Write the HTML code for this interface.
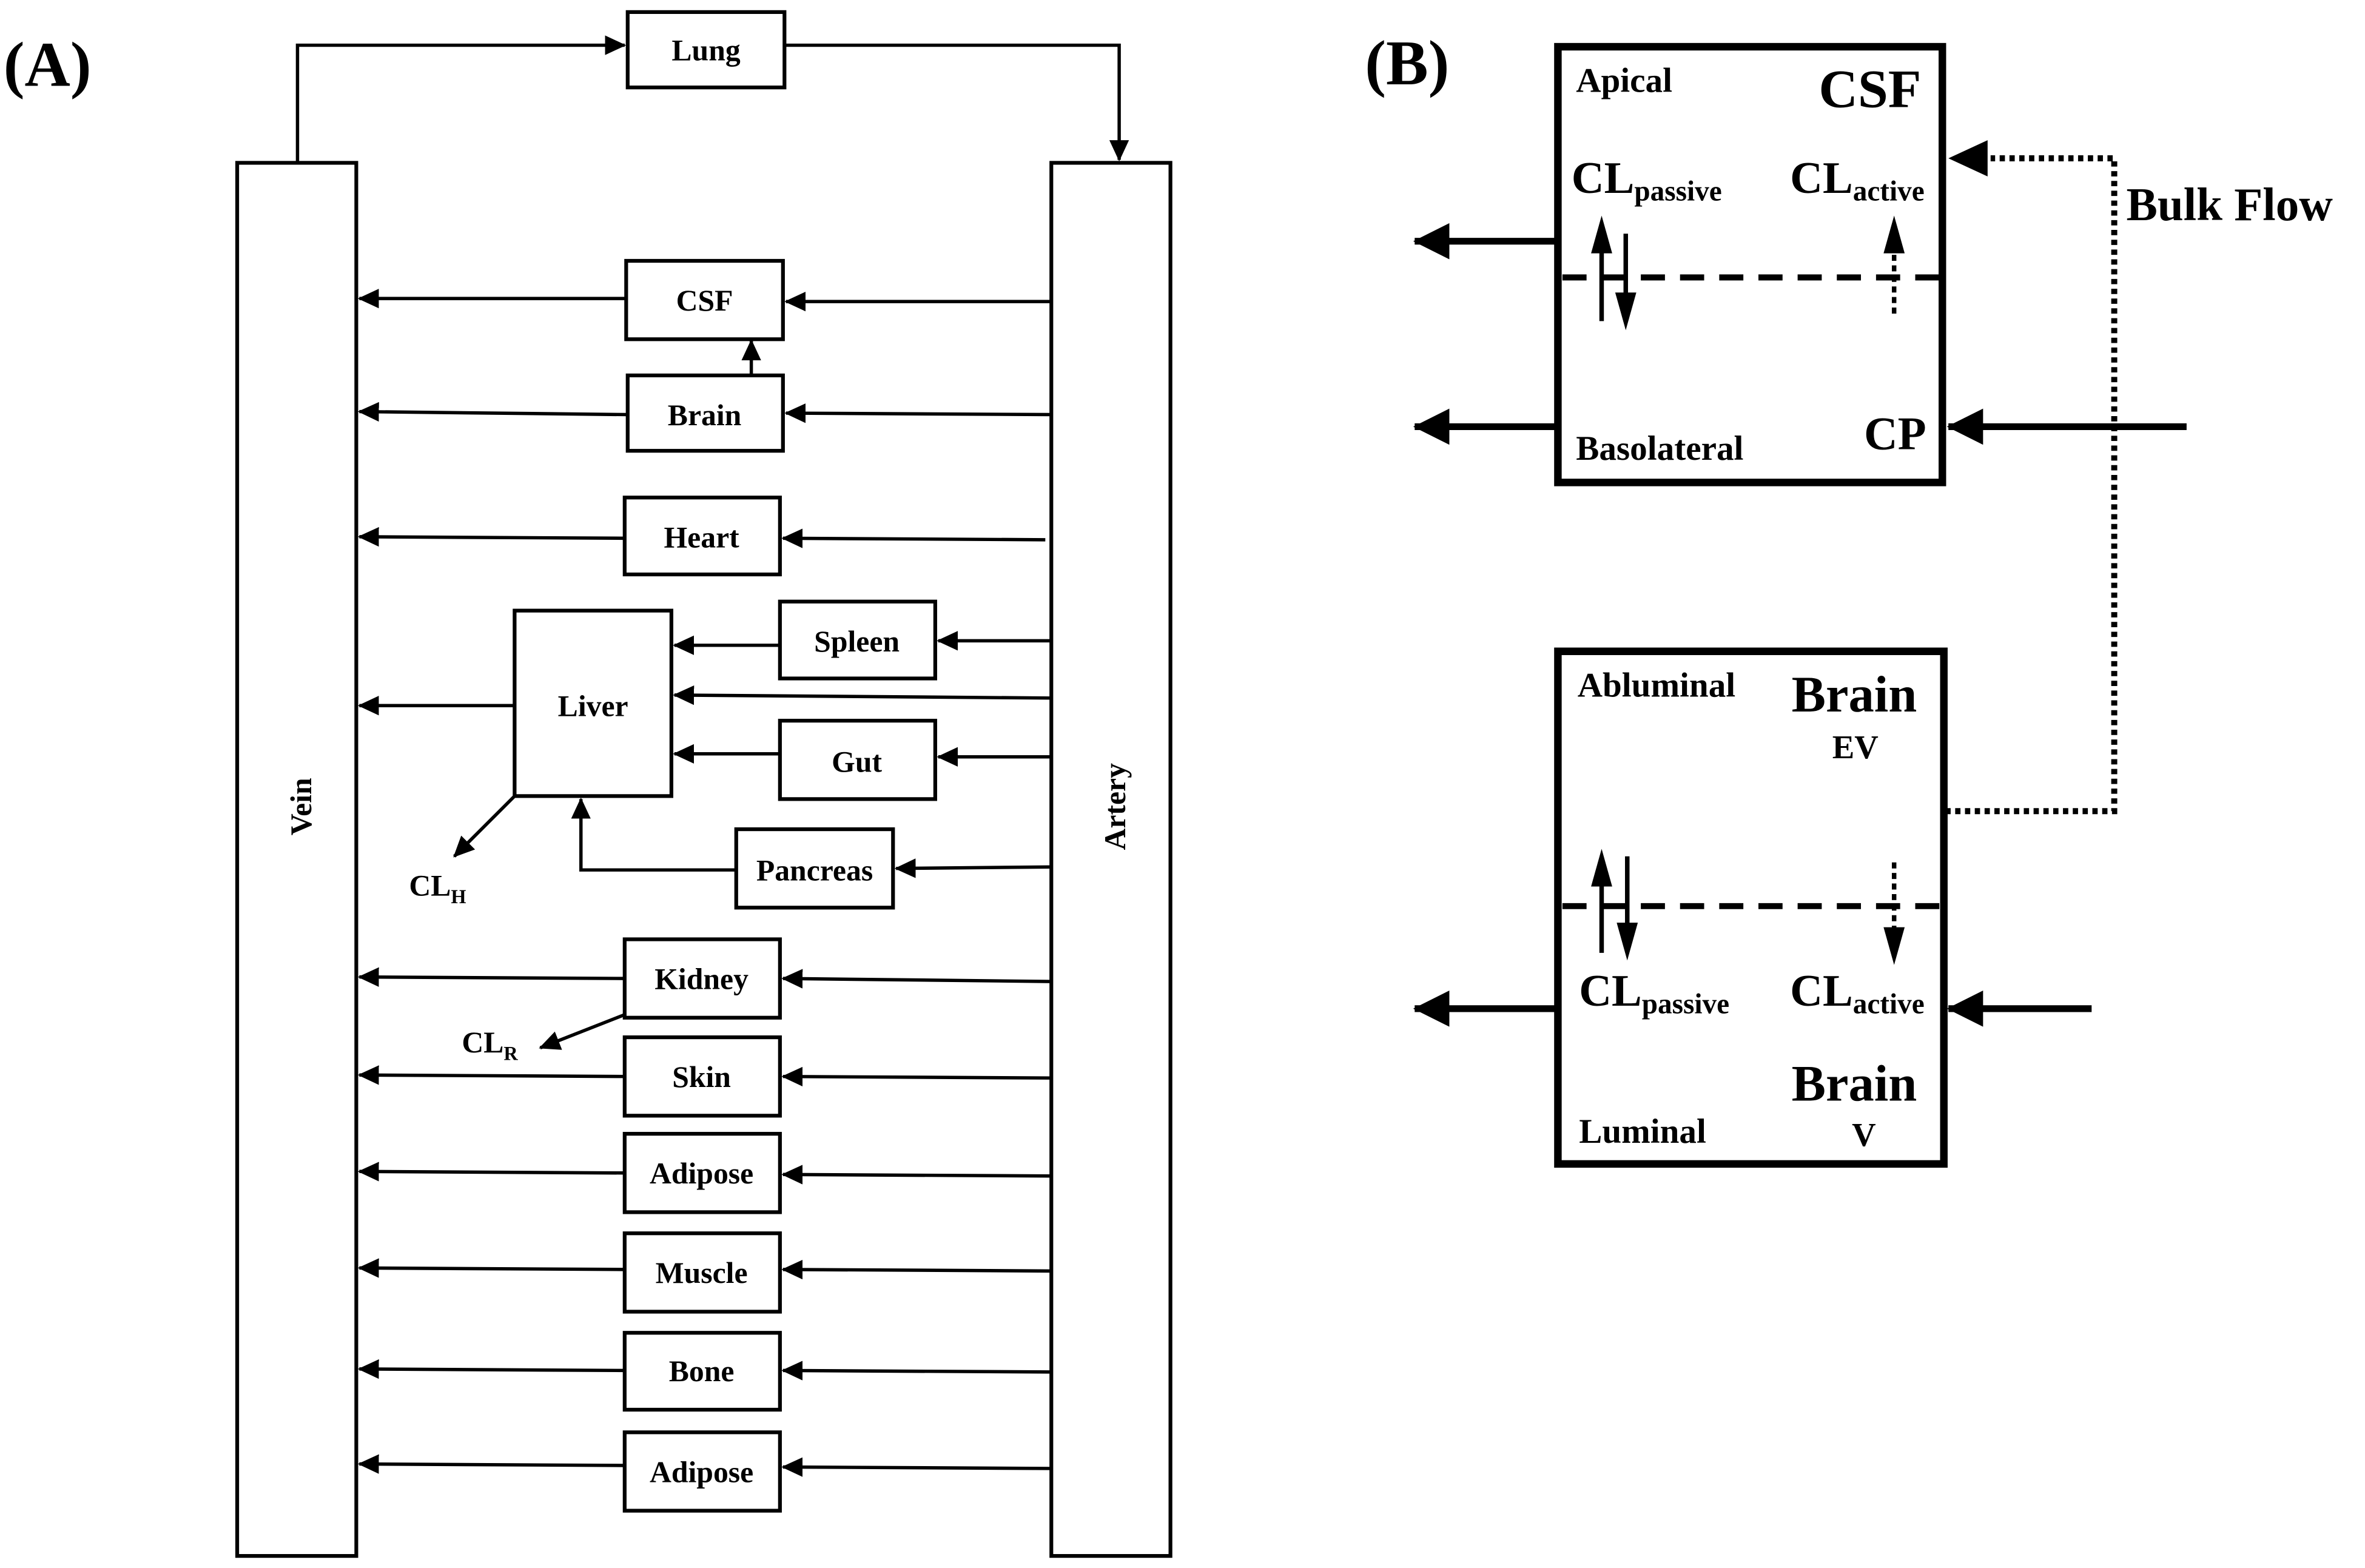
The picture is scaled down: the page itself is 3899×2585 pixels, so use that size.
<!DOCTYPE html>
<html><head><meta charset="utf-8"><style>
html,body{margin:0;padding:0;background:#fff;}
svg{display:block;}
text{font-family:"Liberation Serif",serif;font-weight:bold;fill:#000;}
</style></head><body>
<svg width="3899" height="2585" viewBox="0 0 1568 1040" xmlns="http://www.w3.org/2000/svg">
<defs>
<marker id="a" markerWidth="14" markerHeight="13" refX="13" refY="6.5" orient="auto" markerUnits="userSpaceOnUse" viewBox="0 0 14 13">
<path d="M0,0 L14,6.5 L0,13 z" fill="#000"/></marker>
<marker id="b" markerWidth="24" markerHeight="24" refX="23" refY="12" orient="auto" markerUnits="userSpaceOnUse" viewBox="0 0 24 24">
<path d="M0,0 L24,12 L0,24 z" fill="#000"/></marker>
</defs>

<!-- Panel A -->
<text x="2" y="57" font-size="42">(A)</text>
<g fill="#fff" stroke="#000" stroke-width="2.5">
<rect x="157" y="108" width="79" height="924"/>
<rect x="697" y="108" width="79" height="924"/>
<rect x="416" y="8" width="104" height="50"/>
<rect x="415" y="173" width="104" height="52"/>
<rect x="416" y="249" width="103" height="50"/>
<rect x="414" y="330" width="103" height="51"/>
<rect x="517" y="399" width="103" height="51"/>
<rect x="341" y="405" width="104" height="123"/>
<rect x="517" y="478" width="103" height="52"/>
<rect x="488" y="550" width="104" height="52"/>
<rect x="414" y="623" width="103" height="52"/>
<rect x="414" y="688" width="103" height="52"/>
<rect x="414" y="752" width="103" height="52"/>
<rect x="414" y="818" width="103" height="52"/>
<rect x="414" y="884" width="103" height="51"/>
<rect x="414" y="950" width="103" height="52"/>
</g>
<text transform="translate(206,535) rotate(-90)" font-size="20" text-anchor="middle">Vein</text>
<text transform="translate(746,535) rotate(-90)" font-size="20" text-anchor="middle">Artery</text>
<g font-size="20" text-anchor="middle">
<text x="468" y="40">Lung</text>
<text x="467" y="206">CSF</text>
<text x="467" y="282">Brain</text>
<text x="465" y="363">Heart</text>
<text x="568" y="432">Spleen</text>
<text x="393" y="475">Liver</text>
<text x="568" y="512">Gut</text>
<text x="540" y="584">Pancreas</text>
<text x="465" y="656">Kidney</text>
<text x="465" y="721">Skin</text>
<text x="465" y="785">Adipose</text>
<text x="465" y="851">Muscle</text>
<text x="465" y="916">Bone</text>
<text x="465" y="983">Adipose</text>
</g>
<text x="271" y="594" font-size="20">CL<tspan font-size="13" dy="5">H</tspan></text>
<text x="306" y="698" font-size="20">CL<tspan font-size="13" dy="5">R</tspan></text>
<g stroke="#000" stroke-width="2.2" fill="none" marker-end="url(#a)">
<polyline points="197,108 197,30 414,30"/>
<polyline points="520,30 742,30 742,106"/>
<line x1="697" y1="200" x2="521" y2="200"/>
<line x1="415" y1="198" x2="238" y2="198"/>
<line x1="498" y1="249" x2="498" y2="226"/>
<line x1="697" y1="275" x2="521" y2="274"/>
<line x1="416" y1="275" x2="238" y2="273"/>
<line x1="693" y1="358" x2="519" y2="357"/>
<line x1="414" y1="357" x2="238" y2="356"/>
<line x1="697" y1="425" x2="622" y2="425"/>
<line x1="517" y1="428" x2="447" y2="428"/>
<line x1="697" y1="463" x2="447" y2="461"/>
<line x1="697" y1="502" x2="622" y2="502"/>
<line x1="517" y1="500" x2="447" y2="500"/>
<line x1="697" y1="575" x2="594" y2="576"/>
<polyline points="488,577 385,577 385,530"/>
<line x1="341" y1="468" x2="238" y2="468"/>
<line x1="341" y1="528" x2="301" y2="568"/>
<line x1="697" y1="651" x2="519" y2="649"/>
<line x1="414" y1="649" x2="238" y2="648"/>
<line x1="414" y1="673" x2="358" y2="695"/>
<line x1="697" y1="715" x2="519" y2="714"/>
<line x1="414" y1="714" x2="238" y2="713"/>
<line x1="697" y1="780" x2="519" y2="779"/>
<line x1="414" y1="778" x2="238" y2="777"/>
<line x1="697" y1="843" x2="519" y2="842"/>
<line x1="414" y1="842" x2="238" y2="841"/>
<line x1="697" y1="910" x2="519" y2="909"/>
<line x1="414" y1="909" x2="238" y2="908"/>
<line x1="697" y1="974" x2="519" y2="973"/>
<line x1="414" y1="972" x2="238" y2="971"/>
</g>

<!-- Panel B -->
<text x="905" y="56" font-size="42">(B)</text>
<g fill="none" stroke="#000" stroke-width="5">
<rect x="1033" y="31" width="255" height="289"/>
<rect x="1033" y="432" width="256" height="340"/>
</g>
<g stroke="#000" stroke-width="4" stroke-dasharray="16,10" fill="none">
<line x1="1036" y1="184" x2="1286" y2="184"/>
<line x1="1036" y1="601" x2="1287" y2="601"/>
</g>
<g stroke="#000" stroke-width="4" stroke-dasharray="3.5,3" fill="none">
<polyline points="1290,538 1402,538 1402,105 1320,105"/>
</g>
<g stroke="#000" stroke-width="3" stroke-dasharray="4,3" fill="none">
<line x1="1256" y1="208" x2="1256" y2="166"/>
<line x1="1256" y1="572" x2="1256" y2="616"/>
</g>
<g fill="#000">
<path d="M1292,105 L1318,93 L1318,117 z"/>
<path d="M1256,143 L1249,168 L1263,168 z"/>
<path d="M1256,640 L1249,615 L1263,615 z"/>
<path d="M1062,143 L1055,168 L1069,168 z"/>
<path d="M1078,219 L1071,194 L1085,194 z"/>
<path d="M1062,563 L1055,588 L1069,588 z"/>
<path d="M1079,637 L1072,612 L1086,612 z"/>
</g>
<g stroke="#000" stroke-width="3">
<line x1="1062" y1="165" x2="1062" y2="213"/>
<line x1="1078" y1="155" x2="1078" y2="197"/>
<line x1="1062" y1="585" x2="1062" y2="632"/>
<line x1="1079" y1="568" x2="1079" y2="615"/>
</g>
<g stroke="#000" stroke-width="4.5" fill="none" marker-end="url(#b)">
<line x1="1031" y1="160" x2="938" y2="160"/>
<line x1="1031" y1="283" x2="938" y2="283"/>
<line x1="1450" y1="283" x2="1292" y2="283"/>
<line x1="1031" y1="669" x2="938" y2="669"/>
<line x1="1387" y1="669" x2="1292" y2="669"/>
</g>
<text x="1045" y="61" font-size="23">Apical</text>
<text x="1206" y="71" font-size="36">CSF</text>
<text x="1042" y="128" font-size="30">CL<tspan font-size="19" dy="5">passive</tspan></text>
<text x="1187" y="128" font-size="30">CL<tspan font-size="19" dy="5">active</tspan></text>
<text x="1410" y="146" font-size="31">Bulk Flow</text>
<text x="1045" y="305" font-size="23">Basolateral</text>
<text x="1236" y="298" font-size="31">CP</text>
<text x="1046" y="462" font-size="23">Abluminal</text>
<text x="1188" y="472" font-size="34">Brain</text>
<text x="1215" y="503" font-size="22">EV</text>
<text x="1047" y="667" font-size="30">CL<tspan font-size="19" dy="5">passive</tspan></text>
<text x="1187" y="667" font-size="30">CL<tspan font-size="19" dy="5">active</tspan></text>
<text x="1188" y="730" font-size="34">Brain</text>
<text x="1228" y="760" font-size="22">V</text>
<text x="1047" y="758" font-size="23">Luminal</text>
</svg>
</body></html>
